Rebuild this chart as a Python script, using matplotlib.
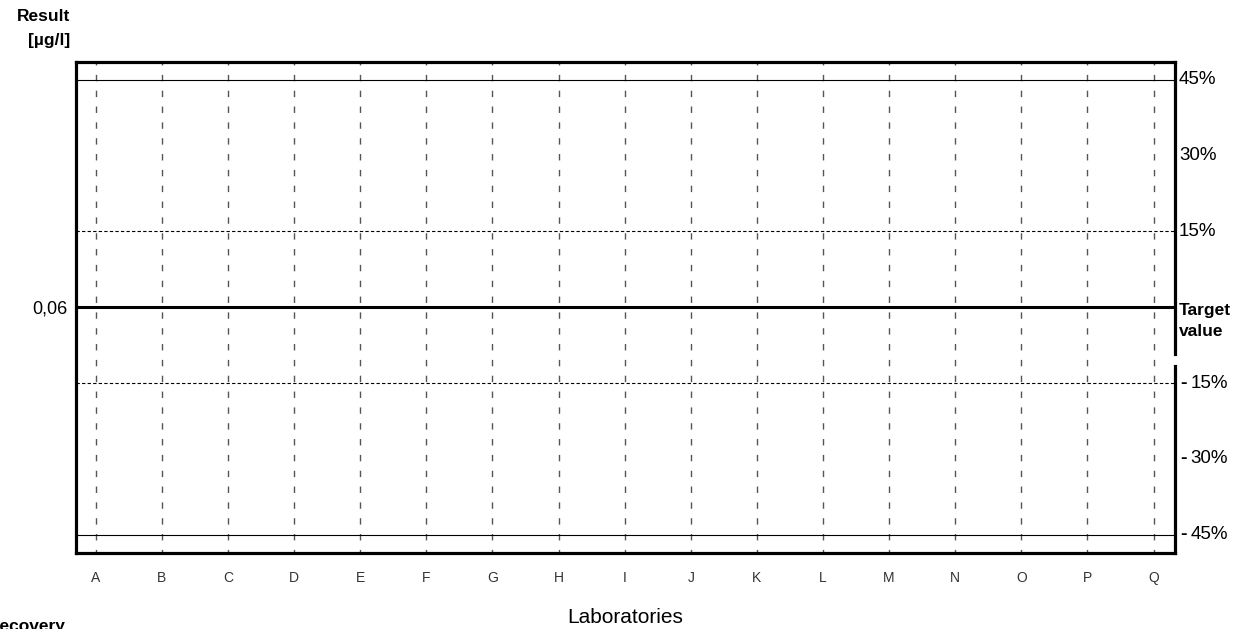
import matplotlib
matplotlib.use("Agg")
import matplotlib.pyplot as plt
import matplotlib.transforms as mtransforms

plt.rcParams['font.family'] = ['Liberation Sans', 'DejaVu Sans']

# data
labs = list("ABCDEFGHIJKLMNOPQ")
target = 0.06
pct_labels = [45, 30, 15, -15, -30, -45]
pct_solid = [45, -45]
pct_dashed = [15, -15]
span = 48.6  # visible range in percent

fig = plt.figure(figsize=(12.57, 6.29), dpi=100)
ax = fig.add_axes([0.0605, 0.1208, 0.874, 0.7814])

x = list(range(len(labs)))
ax.set_xlim(-0.3, len(labs) - 1 + 0.32)
ax.set_ylim(target * (1 - span / 100), target * (1 + span / 100))

for xi in x:
    ax.axvline(xi, color='#555555', lw=1.0, ls=(2, (4.6, 6.8)), zorder=1)

for p in pct_solid:
    ax.axhline(target * (1 + p / 100), color='black', lw=0.8, zorder=2)
for p in pct_dashed:
    ax.axhline(target * (1 + p / 100), color='black', lw=0.8, ls=(0, (3, 2)), zorder=2)
ax.axhline(target, color='black', lw=2.2, zorder=3)

for s in ax.spines.values():
    s.set_linewidth(2.3)

ax.set_xticks(x)
ax.set_xticklabels(labs, color='#333333', fontsize=10,
                   family=['Liberation Sans Narrow', 'Liberation Sans'])
ax.tick_params(axis='x', length=0, pad=13)
ax.set_yticks([target])
ax.set_yticklabels(['0,06'], fontsize=13)
ax.tick_params(axis='y', length=0, pad=6)

# right-side percent labels
tr = mtransforms.blended_transform_factory(ax.transAxes, ax.transData)
for p in pct_labels:
    yv = target * (1 + p / 100)
    if p > 0:
        ax.text(1.004, yv, f"{p}%", transform=tr, ha='left', va='center', fontsize=13.5)
    else:
        ax.text(1.005, yv, "-", transform=tr, ha='left', va='center',
                fontsize=14, fontweight='bold')
        ax.text(1.0145, yv, f"{-p}%", transform=tr, ha='left', va='center', fontsize=13.5)
ax.text(1.004, target * 1.008, "Target\nvalue", transform=tr, ha='left', va='top',
        fontsize=12.5, fontweight='bold', linespacing=1.45)
# small break in the right frame below the label
ax.plot([1.0, 1.0], [target * (1 - 0.101), target * (1 - 0.109)], transform=tr,
        color='white', lw=3.5, clip_on=False, zorder=5)

fig.text(0.0557, 0.985, "Result\n[µg/l]", ha='right', va='top', fontsize=12.5,
         fontweight='bold', linespacing=1.75)
fig.text(0.4975, 0.018, "Laboratories", ha='center', va='center', fontsize=15)
fig.text(0.052, 0.016, "Recovery", ha='right', va='top', fontsize=12.5,
         fontweight='bold')

fig.savefig("out.png", dpi=100)
